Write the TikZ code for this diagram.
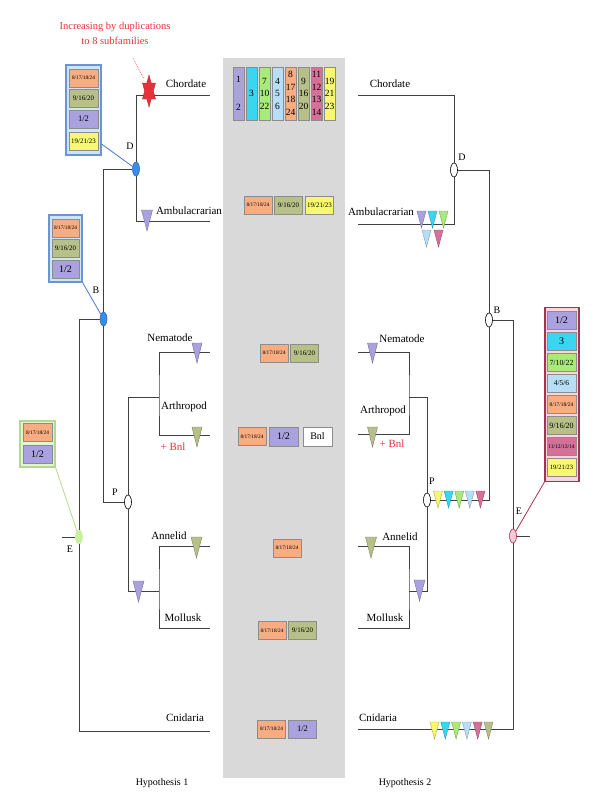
\documentclass[tikz,border=0pt]{standalone}
\usepackage{fontspec}
\setmainfont{Liberation Serif}
\usetikzlibrary{shapes.geometric}

\definecolor{fampurple}{RGB}{170,162,222}
\definecolor{famcyan}{RGB}{58,214,240}
\definecolor{famgreen}{RGB}{170,234,120}
\definecolor{famblue}{RGB}{184,222,246}
\definecolor{famorange}{RGB}{248,172,130}
\definecolor{famolive}{RGB}{182,192,136}
\definecolor{fampink}{RGB}{214,112,152}
\definecolor{famyellow}{RGB}{248,248,112}
\definecolor{panelgray}{RGB}{217,217,217}
\definecolor{nodeblue}{RGB}{58,140,232}
\definecolor{boxblue}{RGB}{205,229,248}
\definecolor{lineblue}{RGB}{70,120,205}
\definecolor{egreen}{RGB}{200,240,160}
\definecolor{boxgreen}{RGB}{222,247,206}
\definecolor{epink}{RGB}{246,200,216}
\definecolor{linepink}{RGB}{170,48,80}
\definecolor{boxpink}{RGB}{247,214,224}
\definecolor{annored}{RGB}{232,48,58}

\newcommand{\famtri}[5]{\filldraw[fill=#3, draw=#3!70!black, line width=0.4pt] (#1,#2) ++(-#4/2,0) -- ++(#4,0) -- ++(-#4/2,#5) -- cycle;}

\begin{document}
\begin{tikzpicture}[x=1pt, y=-1pt,
  branch/.style={draw=black!75, line width=0.9pt},
  split/.style={ellipse, draw=black, line width=0.6pt, minimum width=7, minimum height=14, inner sep=0},
  fam/.style={draw=black!45, line width=0.6pt, minimum width=28, minimum height=18, inner sep=0},
  bar/.style={draw=black!45, line width=0.6pt, minimum width=11, minimum height=53, inner sep=0, align=center, font=\fontsize{9.5}{12.5}\selectfont},
  panel/.style={line width=1.2pt, inner sep=0},
  taxon/.style={font=\fontsize{11}{13}\selectfont},
  tag/.style={font=\fontsize{10}{12}\selectfont},
  tinytext/.style={font=\fontsize{5.3}{6}\selectfont},
  smalltext/.style={font=\fontsize{6.9}{8}\selectfont},
  midtext/.style={font=\fontsize{8.5}{10}\selectfont},
  bigtext/.style={font=\fontsize{10}{12}\selectfont}]
\useasboundingbox (0,0) rectangle (600,809);

\fill[panelgray] (223,58) rectangle (345,778);

\node[align=center, text=annored, font=\fontsize{10.5}{15}\selectfont] (anno) at (115,33.5) {Increasing by duplications\\to 8 subfamilies};
\coordinate (annoTip) at (133,58);
\coordinate (starTip) at (144,79);
\draw[annored!70, densely dotted, line width=0.8pt] (annoTip) -- (starTip);

% hypothesis 1
\node[split, fill=nodeblue, draw=nodeblue!80!black] (D1) at (136,169) {};
\node[split, fill=nodeblue, draw=nodeblue!80!black] (B1) at (103.5,319) {};
\node[split, fill=white] (P1) at (128,502) {};
\node[split, fill=egreen, draw=egreen] (E1) at (79,537) {};
\coordinate (chordL) at (210,95);
\coordinate (ambL) at (210,221);
\coordinate (nemL) at (210,352);
\coordinate (artL) at (210,435);
\coordinate (annL) at (210,546);
\coordinate (molL) at (210,628);
\coordinate (cnidL) at (210,731);
\coordinate (NA1) at (159,397);
\coordinate (AM1) at (159,591);
\coordinate (stubL) at (62,537);

\draw[branch] (chordL) -| (D1.north);
\draw[branch] (ambL) -| (D1.south);
\draw[branch] (D1.west) -| (B1.north);
\draw[branch] (B1.south) |- (P1.west);
\draw[branch] (B1.west) -| (E1.north);
\draw[branch] (E1.south) |- (cnidL);
\draw[branch] (E1.west) -- (stubL);
\draw[branch] (P1.north) |- (NA1);
\draw[branch] (nemL) -| (NA1) |- (artL);
\draw[branch] (P1.south) |- (AM1);
\draw[branch] (annL) -| (AM1) |- (molL);

\fill[fill=annored, draw=annored!80!black, shift={(149,91)}, xscale=0.47] (90:16) -- (120:9.24) -- (150:16) -- (180:9.24) -- (210:16) -- (240:9.24) -- (270:16) -- (300:9.24) -- (330:16) -- (0:9.24) -- (30:16) -- (60:9.24) -- cycle;

\famtri{147}{210}{fampurple}{11}{21}
\famtri{197}{343}{fampurple}{10}{20}
\famtri{197}{427}{famolive}{10}{20}
\famtri{196.5}{537}{famolive}{11}{21}
\famtri{138.5}{581}{fampurple}{11}{21}

\node[taxon] (chordLab1) at (186,84) {Chordate};
\node[taxon] (ambLab1) at (189,211) {Ambulacrarian};
\node[taxon] (nemLab1) at (170,338) {Nematode};
\node[taxon] (artLab1) at (184,407) {Arthropod};
\node[taxon, text=annored] (bnlLab1) at (173,447) {+ Bnl};
\node[taxon] (annLab1) at (169,536) {Annelid};
\node[taxon] (molLab1) at (183,618) {Mollusk};
\node[taxon] (cnidLab1) at (185,718) {Cnidaria};
\node[tag] (DLab1) at (130,146) {D};
\node[tag] (BLab1) at (96,290) {B};
\node[tag] (PLab1) at (115,492) {P};
\node[tag] (ELab1) at (70,549) {E};
\node[tag] (hyp1) at (162,783) {Hypothesis 1};

\node[panel, draw=lineblue!80, fill=boxblue, minimum width=35, minimum height=90] (Dbox1) at (83.5,110) {};
\node[fam, minimum width=29, fill=famorange, tinytext] (Dfam1) at (83.5,78) {8/17/18/24};
\node[fam, minimum width=29, fill=famolive, smalltext] (Dfam2) at (83.5,98) {9/16/20};
\node[fam, minimum width=29, fill=fampurple, midtext] (Dfam3) at (83.5,119) {1/2};
\node[fam, minimum width=29, fill=famyellow, smalltext] (Dfam4) at (83.5,141) {19/21/23};
\draw[lineblue, line width=0.8pt] (Dbox1.-62) -- (D1);

\node[panel, draw=lineblue!80, fill=boxblue, minimum width=33, minimum height=67] (Bbox1) at (65.5,248.5) {};
\node[fam, minimum width=27, fill=famorange, tinytext] (Bfam1) at (65.5,228) {8/17/18/24};
\node[fam, minimum width=27, fill=famolive, smalltext] (Bfam2) at (65.5,248.5) {9/16/20};
\node[fam, minimum width=27, fill=fampurple, bigtext] (Bfam3) at (65.5,269) {1/2};
\draw[lineblue, line width=0.8pt] (Bbox1.south east) -- (B1);

\node[panel, draw=egreen!90!black, fill=boxgreen, minimum width=35, minimum height=46] (Ebox1) at (37.5,444) {};
\node[fam, minimum width=29, fill=famorange, tinytext] (Efam1) at (37.5,432.5) {8/17/18/24};
\node[fam, minimum width=29, fill=fampurple, bigtext] (Efam2) at (37.5,454.5) {1/2};
\draw[egreen!90!black, line width=0.8pt] (Ebox1.south east) -- (E1);

% subfamilies per taxon
\foreach \col/\txt [count=\i from 0] in {fampurple/{1\\[15pt]2}, famcyan/3, famgreen/{7\\10\\22}, famblue/{4\\5\\6}, famorange/{8\\17\\18\\24}, famolive/{9\\16\\20}, fampink/{11\\12\\13\\14}, famyellow/{19\\21\\23}}
  \node[bar, fill=\col] (bar\i) at (238.5+13*\i,93.5) {\txt};

\node[fam, fill=famorange, tinytext] (ambF1) at (258,205) {8/17/18/24};
\node[fam, fill=famolive, smalltext] (ambF2) at (288.5,205) {9/16/20};
\node[fam, fill=famyellow, smalltext] (ambF3) at (319.5,205) {19/21/23};
\node[fam, fill=famorange, tinytext] (nemF1) at (274,353) {8/17/18/24};
\node[fam, fill=famolive, smalltext] (nemF2) at (304.5,353) {9/16/20};
\node[fam, fill=famorange, tinytext] (artF1) at (252,436.5) {8/17/18/24};
\node[fam, fill=fampurple, minimum width=29, minimum height=19, bigtext] (artF2) at (283.5,436.5) {1/2};
\node[fam, fill=white, minimum width=29, minimum height=19, bigtext] (artF3) at (317.5,436.5) {Bnl};
\node[fam, fill=famorange, tinytext] (annF1) at (287,548) {8/17/18/24};
\node[fam, fill=famorange, tinytext] (molF1) at (272,630.5) {8/17/18/24};
\node[fam, fill=famolive, smalltext] (molF2) at (302.5,630.5) {9/16/20};
\node[fam, fill=famorange, tinytext] (cnidF1) at (271.5,729) {8/17/18/24};
\node[fam, fill=fampurple, midtext] (cnidF2) at (302.5,729) {1/2};

% hypothesis 2
\node[split, fill=white] (D2) at (454,170) {};
\node[split, fill=white] (B2) at (489,320) {};
\node[split, fill=white] (P2) at (427,500) {};
\node[split, fill=epink, draw=linepink] (E2) at (513,536) {};
\coordinate (chordR) at (358,95);
\coordinate (ambR) at (358,224);
\coordinate (nemR) at (358,352);
\coordinate (artR) at (358,434);
\coordinate (annR) at (358,546);
\coordinate (molR) at (358,628);
\coordinate (cnidR) at (358,729);
\coordinate (NA2) at (409,397);
\coordinate (AM2) at (409,591);
\coordinate (stubR) at (530,536);

\draw[branch] (chordR) -| (D2.north);
\draw[branch] (ambR) -| (D2.south);
\draw[branch] (D2.east) -| (B2.north);
\draw[branch] (B2.south) |- (P2.east);
\draw[branch] (B2.east) -| (E2.north);
\draw[branch] (E2.south) |- (cnidR);
\draw[branch] (E2.east) -- (stubR);
\draw[branch] (P2.north) |- (NA2);
\draw[branch] (nemR) -| (NA2) |- (artR);
\draw[branch] (P2.south) |- (AM2);
\draw[branch] (annR) -| (AM2) |- (molR);

\foreach \col [count=\i from 0] in {fampurple,famcyan,famgreen}
  {\famtri{421.5+11*\i}{211}{\col}{9}{17}}
\famtri{426.5}{230}{famblue}{9}{17}
\famtri{438.5}{230}{fampink}{9}{17}
\foreach \col [count=\i from 0] in {famyellow,famcyan,famgreen,famblue,fampink}
  {\famtri{438+10.6*\i}{491}{\col}{9}{17}}
\foreach \col [count=\i from 0] in {famyellow,famcyan,famgreen,famblue,fampink,famolive}
  {\famtri{434.5+10.8*\i}{722}{\col}{9}{17}}
\famtri{372.5}{343}{fampurple}{10}{20}
\famtri{372.5}{427}{famolive}{10}{20}
\famtri{371}{537}{famolive}{11}{21}
\famtri{419.5}{580}{fampurple}{11}{21}

\node[taxon] (chordLab2) at (390,84) {Chordate};
\node[taxon] (ambLab2) at (381,212) {Ambulacrarian};
\node[taxon] (nemLab2) at (402,339) {Nematode};
\node[taxon] (artLab2) at (383,411) {Arthropod};
\node[taxon, text=annored] (bnlLab2) at (392,444) {+ Bnl};
\node[taxon] (annLab2) at (400,537) {Annelid};
\node[taxon] (molLab2) at (385,618) {Mollusk};
\node[taxon] (cnidLab2) at (378,718) {Cnidaria};
\node[tag] (DLab2) at (462,157) {D};
\node[tag] (BLab2) at (497,310) {B};
\node[tag] (PLab2) at (432,481) {P};
\node[tag] (ELab2) at (519,511) {E};
\node[tag] (hyp2) at (405,783) {Hypothesis 2};

\node[panel, draw=linepink, fill=boxpink, minimum width=34, minimum height=174] (Ebox2) at (562,394.5) {};
\foreach \col/\sz/\txt [count=\i from 0] in {fampurple/10/{1/2}, famcyan/10/3, famgreen/7.8/{7/10/22}, famblue/7.5/{4/5/6}, famorange/5.5/{8/17/18/24}, famolive/8/{9/16/20}, fampink/5.5/{11/12/13/14}, famyellow/6.5/{19/21/23}}
  \node[fam, minimum width=29, fill=\col, font=\fontsize{\sz}{\sz}\selectfont] (E2fam\i) at (561.5,320.5+21*\i) {\txt};
\draw[linepink, line width=0.8pt] (Ebox2.south west) -- (E2);
\end{tikzpicture}
\end{document}
